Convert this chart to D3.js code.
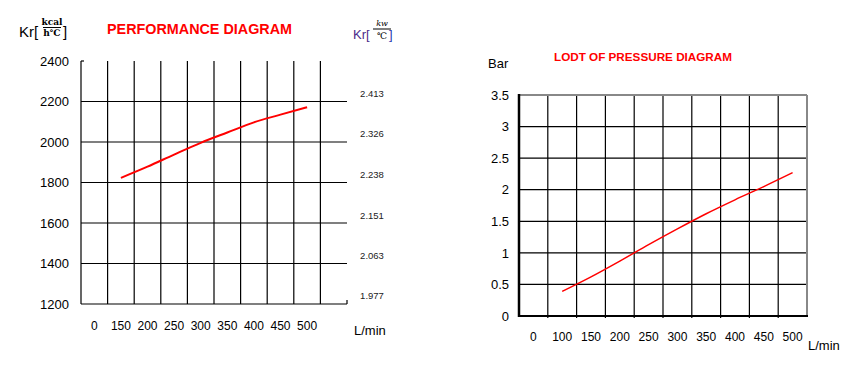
<!DOCTYPE html>
<html>
<head>
<meta charset="utf-8">
<script src="https://cdn.jsdelivr.net/npm/d3@7"></script>
<style>
  body{margin:0;background:#fff;}
  svg{display:block;font-family:"Liberation Sans",Arial,sans-serif;}
</style>
</head>
<body>
<div id="chart"></div>
<script>
// performance diagram (left)
var perfFlowTicks = ["0","150","200","250","300","350","400","450","500"];
var perfKrTicks = [1200,1400,1600,1800,2000,2200,2400];
var perfKwTicks = [2.413,2.326,2.238,2.151,2.063,1.977];
var perfFlow = ["150","200","250","300","350","400","450","500"];
var perfKr = [1823,1878,1938,1996,2047,2097,2135,2172];

// load of pressure diagram (right)
var presFlowTicks = ["0","100","150","200","250","300","350","400","450","500"];
var presBarTicks = [0,0.5,1,1.5,2,2.5,3,3.5];
var presFlow = ["100","150","200","250","300","350","400","450","500"];
var presBar = [0.39,0.62,0.87,1.13,1.38,1.62,1.84,2.05,2.27];

var svg = d3.select("#chart").append("svg")
    .attr("width",866)
    .attr("height",373);

function drawPerformance(){
    var xL = d3.scaleBand().domain(perfFlowTicks.concat([""])).range([81,347]),
        yL = d3.scaleLinear().domain([1200,2400]).range([304,61]),
        yR = d3.scaleLinear().domain([1.977,2.413]).range([yL(1200)-8,yL(2200)-8]),
        bw = xL.bandwidth(),
        g = svg.append("g");

    // horizontal grid
    g.selectAll("line.h")
        .data(perfKrTicks.filter(function(d){return d < 2400;}))
      .enter().append("line")
        .attr("x1",81).attr("x2",347)
        .attr("y1",function(d){return yL(d);})
        .attr("y2",function(d){return yL(d);})
        .attr("stroke","#000").attr("stroke-width",1.2);

    // vertical grid
    g.selectAll("line.v")
        .data(xL.domain())
      .enter().append("line")
        .attr("x1",function(d){return xL(d);})
        .attr("x2",function(d){return xL(d);})
        .attr("y1",yL(2400)).attr("y2",yL(1200))
        .attr("stroke","#000").attr("stroke-width",1.2);
    g.append("line")
        .attr("x1",81).attr("x2",84).attr("y1",yL(2400)).attr("y2",yL(2400))
        .attr("stroke","#000").attr("stroke-width",1.2);
    g.append("line")
        .attr("x1",347).attr("x2",347).attr("y1",yL(1200)-4).attr("y2",yL(1200))
        .attr("stroke","#000").attr("stroke-width",1.2);

    // left labels
    g.selectAll("text.yl")
        .data(perfKrTicks)
      .enter().append("text")
        .attr("x",69).attr("y",function(d){return yL(d);})
        .attr("dy","0.36em")
        .attr("text-anchor","end")
        .attr("font-size",13)
        .text(function(d){return d;});

    // right labels
    g.selectAll("text.yr")
        .data(perfKwTicks)
      .enter().append("text")
        .attr("x",372).attr("y",function(d){return yR(d);})
        .attr("dy","0.36em")
        .attr("text-anchor","middle")
        .attr("font-size",9.5)
        .attr("fill","#222")
        .text(function(d){return d.toFixed(3);});

    // x labels
    g.selectAll("text.x")
        .data(perfFlowTicks)
      .enter().append("text")
        .attr("x",function(d){return xL(d)+bw/2;})
        .attr("y",326).attr("dy","0.36em")
        .attr("text-anchor","middle")
        .attr("font-size",12)
        .text(function(d){return d;});
    g.append("text").attr("x",354).attr("y",330).attr("dy","0.36em")
        .attr("font-size",13).text("L/min");

    // curve
    var line = d3.line()
        .x(function(d,i){return xL(perfFlow[i])+bw/2;})
        .y(function(d){return yL(d);})
        .curve(d3.curveMonotoneX);
    g.append("path").datum(perfKr)
        .attr("d",line)
        .attr("fill","none").attr("stroke","#f00").attr("stroke-width",2);

    // titles and units
    g.append("text").attr("x",107).attr("y",34)
        .attr("font-size",14).attr("font-weight","bold").attr("fill","#f00")
        .attr("textLength",185).attr("lengthAdjust","spacingAndGlyphs")
        .text("PERFORMANCE DIAGRAM");
    g.append("text").attr("x",19).attr("y",37).attr("font-size",15).text("Kr[");
    g.append("text").attr("x",52).attr("y",25).attr("text-anchor","middle")
        .attr("font-family","DejaVu Serif,serif").attr("font-size",9).attr("font-weight","bold").text("kcal");
    g.append("line").attr("x1",43).attr("x2",61).attr("y1",27.5).attr("y2",27.5)
        .attr("stroke","#000").attr("stroke-width",1);
    g.append("text").attr("x",52).attr("y",36).attr("text-anchor","middle")
        .attr("font-family","DejaVu Serif,serif").attr("font-size",9).attr("font-weight","bold").text("h\u2103");
    g.append("text").attr("x",63).attr("y",37).attr("font-size",15).text("]");

    g.append("text").attr("x",353).attr("y",39).attr("font-size",13).attr("fill","#4a2a8a").text("Kr[");
    g.append("text").attr("x",382).attr("y",26).attr("text-anchor","middle")
        .attr("font-family","DejaVu Serif,serif").attr("font-style","italic").attr("font-size",8).text("kw");
    g.append("line").attr("x1",373).attr("x2",391).attr("y1",29).attr("y2",29)
        .attr("stroke","#000").attr("stroke-width",1);
    g.append("text").attr("x",382).attr("y",39).attr("text-anchor","middle")
        .attr("font-family","DejaVu Serif,serif").attr("font-size",9).text("\u2103");
    g.append("text").attr("x",389).attr("y",39).attr("font-size",13).attr("fill","#2a3ab0").text("]");
}

function drawPressure(){
    var x = d3.scaleBand().domain(presFlowTicks).range([519,807]),
        y = d3.scaleLinear().domain([0,3.5]).range([316,95]),
        bw = x.bandwidth(),
        g = svg.append("g");

    g.selectAll("line.h")
        .data(presBarTicks.filter(function(d){return d > 0 && d < 3.5;}))
      .enter().append("line")
        .attr("x1",519).attr("x2",807)
        .attr("y1",function(d){return y(d);})
        .attr("y2",function(d){return y(d);})
        .attr("stroke","#000").attr("stroke-width",1.2);

    g.selectAll("line.v")
        .data(presFlowTicks.slice(1))
      .enter().append("line")
        .attr("x1",function(d){return x(d);})
        .attr("x2",function(d){return x(d);})
        .attr("y1",y(3.5)).attr("y2",y(0)+2)
        .attr("stroke","#000").attr("stroke-width",1.2);

    // frame
    g.append("line").attr("x1",519).attr("x2",807).attr("y1",y(3.5)).attr("y2",y(3.5))
        .attr("stroke","#888").attr("stroke-width",2);
    g.append("line").attr("x1",807).attr("x2",807).attr("y1",y(3.5)).attr("y2",y(0))
        .attr("stroke","#888").attr("stroke-width",2);
    g.append("line").attr("x1",519).attr("x2",519).attr("y1",y(3.5)-1).attr("y2",y(0)+1)
        .attr("stroke","#000").attr("stroke-width",2.5);
    g.append("line").attr("x1",518).attr("x2",808).attr("y1",y(0)).attr("y2",y(0))
        .attr("stroke","#000").attr("stroke-width",2);

    g.selectAll("text.y")
        .data(presBarTicks)
      .enter().append("text")
        .attr("x",509).attr("y",function(d){return y(d);})
        .attr("dy","0.36em")
        .attr("text-anchor","end")
        .attr("font-size",13)
        .text(function(d){return d;});

    g.selectAll("text.x")
        .data(presFlowTicks)
      .enter().append("text")
        .attr("x",function(d){return x(d)+bw/2;})
        .attr("y",337).attr("dy","0.36em")
        .attr("text-anchor","middle")
        .attr("font-size",12)
        .text(function(d){return d;});
    g.append("text").attr("x",808).attr("y",345).attr("dy","0.36em")
        .attr("font-size",13).text("L/min");
    g.append("text").attr("x",488).attr("y",68).attr("font-size",13).text("Bar");

    var line = d3.line()
        .x(function(d,i){return x(presFlow[i])+bw/2;})
        .y(function(d){return y(d);})
        .curve(d3.curveMonotoneX);
    g.append("path").datum(presBar)
        .attr("d",line)
        .attr("fill","none").attr("stroke","#f00").attr("stroke-width",1.5);

    g.append("text").attr("x",554).attr("y",61)
        .attr("font-size",11.5).attr("font-weight","bold").attr("fill","#f00")
        .attr("textLength",178).attr("lengthAdjust","spacingAndGlyphs")
        .text("LODT OF PRESSURE DIAGRAM");
}

drawPerformance();
drawPressure();
</script>
</body>
</html>
